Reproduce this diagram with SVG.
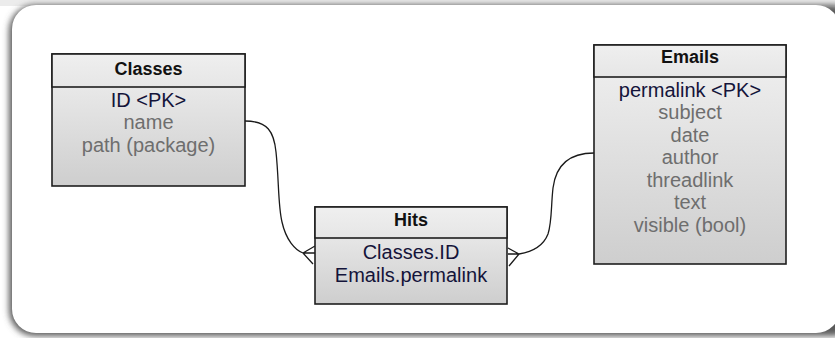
<svg xmlns="http://www.w3.org/2000/svg" width="835" height="338" viewBox="0 0 835 338">
<defs>
<linearGradient id="body" x1="0" y1="0" x2="0" y2="1">
<stop offset="0" stop-color="#f1f1f1"/>
<stop offset="1" stop-color="#cecece"/>
</linearGradient>
<linearGradient id="head" x1="0" y1="0" x2="0" y2="1">
<stop offset="0" stop-color="#efefef"/>
<stop offset="1" stop-color="#e6e6e6"/>
</linearGradient>
<filter id="blur" x="-5%" y="-10%" width="110%" height="120%">
<feGaussianBlur stdDeviation="3"/>
</filter>
</defs>
<style>
.box{fill:url(#body);stroke:#1e1e1e;stroke-width:1.6}
.hd{fill:url(#head);stroke:#1e1e1e;stroke-width:1.6}
.t{font-family:"Liberation Sans",Arial,sans-serif;font-size:18px;font-weight:bold;fill:#111;text-anchor:middle}
.k{font-family:"Liberation Sans",Arial,sans-serif;font-size:20px;fill:#14143a;text-anchor:middle}
.f{font-family:"Liberation Sans",Arial,sans-serif;font-size:20px;fill:#6e6e6e;text-anchor:middle}
.c{fill:none;stroke:#1a1a1a;stroke-width:1.3}
</style>
<rect x="0" y="0" width="835" height="338" fill="#ffffff"/>
<rect x="0" y="0" width="835" height="6" fill="#ececec"/>
<rect x="9" y="5" width="850" height="331" rx="26" fill="#5a5a5a" filter="url(#blur)"/>
<rect x="12" y="5" width="828" height="328" rx="24" fill="#ffffff"/>

<g id="connectors">
<path class="c" d="M245,121 C268,121 274,132 276,152 C279,180 278,206 282,222 C286,240 295,250 303,253"/>
<path class="c" d="M303,253 L315,246 M303,253 L315,253 M303,253 L313,264"/>
<path class="c" d="M594,153 C570,153 556,164 553,188 C551,205 552,222 548,234 C543,247 531,252 519,254"/>
<path class="c" d="M519,254 L508,248 M519,254 L508,254 M519,254 L509,266"/>
</g>

<g id="classes">
<rect class="box" x="52" y="54" width="193" height="132"/>
<rect class="hd" x="52" y="54" width="193" height="33"/>
<text class="t" x="148.5" y="75">Classes</text>
<text class="k" x="148.5" y="107">ID &lt;PK&gt;</text>
<text class="f" x="148.5" y="129">name</text>
<text class="f" x="148.5" y="151.5">path (package)</text>
</g>

<g id="hits">
<rect class="box" x="315" y="207" width="192" height="97"/>
<rect class="hd" x="315" y="207" width="192" height="31"/>
<text class="t" x="411" y="226">Hits</text>
<text class="k" x="411" y="259">Classes.ID</text>
<text class="k" x="411" y="282">Emails.permalink</text>
</g>

<g id="emails">
<rect class="box" x="594" y="45" width="192" height="219"/>
<rect class="hd" x="594" y="45" width="192" height="32"/>
<text class="t" x="690" y="63">Emails</text>
<text class="k" x="690" y="97">permalink &lt;PK&gt;</text>
<text class="f" x="690" y="119">subject</text>
<text class="f" x="690" y="142">date</text>
<text class="f" x="690" y="164">author</text>
<text class="f" x="690" y="187">threadlink</text>
<text class="f" x="690" y="209">text</text>
<text class="f" x="690" y="232">visible (bool)</text>
</g>
</svg>
